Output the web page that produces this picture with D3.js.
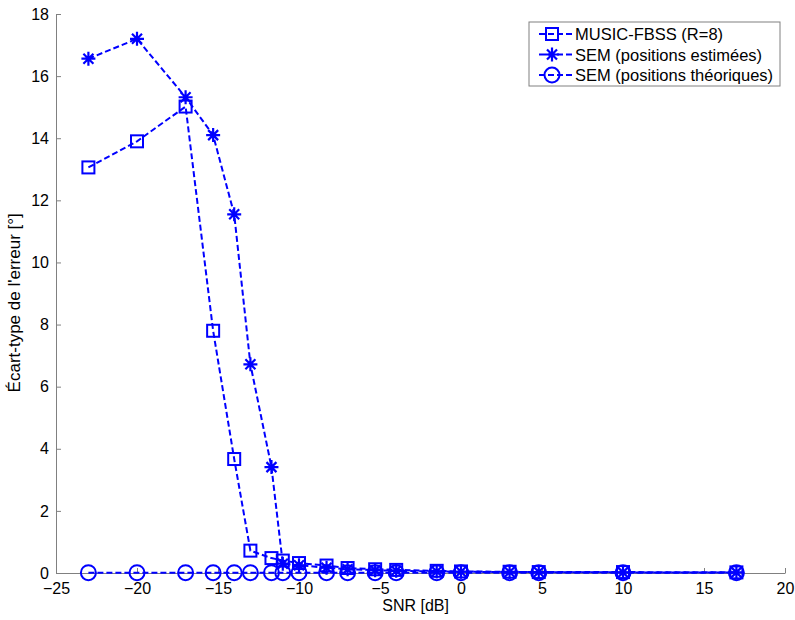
<!DOCTYPE html>
<html>
<head>
<meta charset="utf-8">
<script src="https://cdn.jsdelivr.net/npm/d3@7"></script>
<style>
  body { margin: 0; background: #fff; }
  text { font-family: Arial, "Liberation Sans", sans-serif; }
</style>
</head>
<body>
<div id="chart"></div>
<script>
// SNR values (dB) shared by the three series
const snr = [-23, -20, -17, -15.3, -14, -13, -11.7, -11, -10, -8.3, -7, -5.3, -4, -1.5, 0, 3, 4.8, 10, 17];

const musicFbss = [13.06, 13.9, 15.02, 7.8, 3.67, 0.72, 0.48, 0.4, 0.32, 0.24, 0.16, 0.12, 0.1, 0.07, 0.05, 0.04, 0.03, 0.03, 0.02];
const semEstimees = [16.56, 17.2, 15.32, 14.1, 11.55, 6.72, 3.41, 0.3, 0.25, 0.17, 0.12, 0.09, 0.07, 0.05, 0.04, 0.03, 0.03, 0.02, 0.02];
const semTheoriques = [0.01, 0.01, 0.01, 0.01, 0.01, 0.01, 0.01, 0.01, 0.01, 0.01, 0.01, 0.01, 0.01, 0.01, 0.01, 0.01, 0.01, 0.01, 0.01];

const seriesNames = ["MUSIC-FBSS (R=8)", "SEM (positions estimées)", "SEM (positions théoriques)"];
const markers = ["square", "star", "circle"];

const xTicks = [-25, -20, -15, -10, -5, 0, 5, 10, 15, 20];
const yTicks = [0, 2, 4, 6, 8, 10, 12, 14, 16, 18];

const width = 795, height = 620;
const margin = {left: 56, right: 10, top: 14, bottom: 47};

const svg = d3.select("#chart")
  .append("svg")
  .attr("width", width)
  .attr("height", height);

const x = d3.scaleLinear()
  .domain([-25, 20])
  .range([margin.left, width - margin.right]);

const y = d3.scaleLinear()
  .domain([0, 18])
  .range([height - margin.bottom, margin.top]);

const axisColor = "#808080";

// axes (MATLAB style, ticks pointing inward, no box)
const xAxis = svg.append("g")
  .attr("transform", `translate(0,${y(0)})`)
  .call(d3.axisBottom(x).tickValues(xTicks).tickSizeInner(-5).tickSizeOuter(0).tickPadding(10));
const yAxis = svg.append("g")
  .attr("transform", `translate(${x(-25)},0)`)
  .call(d3.axisLeft(y).tickValues(yTicks).tickSizeInner(-5).tickSizeOuter(0).tickPadding(7));

[xAxis, yAxis].forEach(g => {
  g.select(".domain").attr("stroke", axisColor);
  g.selectAll(".tick line").attr("stroke", axisColor);
  g.selectAll(".tick text").attr("fill", "#000").style("font-size", "16px");
});

svg.append("text")
  .attr("x", x(-2.8))
  .attr("y", 611)
  .attr("text-anchor", "middle")
  .style("font-size", "16px")
  .text("SNR [dB]");

svg.append("text")
  .attr("transform", `translate(20,${y(8.7)}) rotate(-90)`)
  .attr("text-anchor", "middle")
  .style("font-size", "17px")
  .text("Écart-type de l'erreur [°]");

const blue = "#0000ff";

function drawMarker(g, type, cx, cy) {
  if (type === "square") {
    g.append("rect")
      .attr("x", cx - 6).attr("y", cy - 6)
      .attr("width", 12).attr("height", 12)
      .attr("fill", "none").attr("stroke", blue).attr("stroke-width", 2);
  } else if (type === "circle") {
    g.append("circle")
      .attr("cx", cx).attr("cy", cy).attr("r", 7.5)
      .attr("fill", "none").attr("stroke", blue).attr("stroke-width", 2);
  } else {
    const r = 7, d = 5;
    g.append("path")
      .attr("d", `M${cx - r},${cy}H${cx + r}M${cx},${cy - r}V${cy + r}` +
        `M${cx - d},${cy - d}L${cx + d},${cy + d}M${cx - d},${cy + d}L${cx + d},${cy - d}`)
      .attr("fill", "none").attr("stroke", blue).attr("stroke-width", 2.2);
  }
}

const line = d3.line()
  .x(d => x(d[0]))
  .y(d => y(d[1]));

const allSeries = [musicFbss, semEstimees, semTheoriques];

allSeries.forEach((vals, i) => {
  const pts = snr.map((s, j) => [s, vals[j]]);
  const g = svg.append("g");
  g.append("path")
    .datum(pts)
    .attr("d", line)
    .attr("fill", "none")
    .attr("stroke", blue)
    .attr("stroke-width", 2)
    .attr("stroke-dasharray", "6,3");
  pts.forEach(p => drawMarker(g, markers[i], x(p[0]), y(p[1])));
});

// legend
const lg = svg.append("g").attr("transform", "translate(529,22)");
lg.append("rect")
  .attr("width", 251).attr("height", 64)
  .attr("fill", "#fff").attr("stroke", axisColor);

seriesNames.forEach((name, i) => {
  const cy = 12 + i * 20.5;
  lg.append("line")
    .attr("x1", 10).attr("x2", 43).attr("y1", cy).attr("y2", cy)
    .attr("stroke", blue).attr("stroke-width", 2).attr("stroke-dasharray", "6,3");
  drawMarker(lg, markers[i], 23, cy);
  lg.append("text")
    .attr("x", 46).attr("y", cy + 6)
    .style("font-size", "16.5px")
    .text(name);
});
</script>
</body>
</html>
